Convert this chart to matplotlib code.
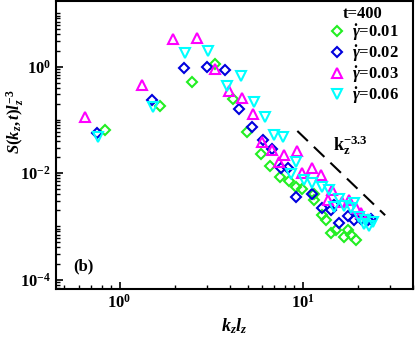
import numpy as np
import matplotlib
matplotlib.use("Agg")
import matplotlib.pyplot as plt
from matplotlib.ticker import FixedLocator, LogLocator, NullFormatter, LogFormatterMathtext

plt.rcParams['font.family'] = 'Liberation Serif'
plt.rcParams['font.weight'] = 'bold'
plt.rcParams['mathtext.fontset'] = 'custom'
plt.rcParams['mathtext.rm'] = 'Liberation Serif:bold'
plt.rcParams['mathtext.it'] = 'Liberation Serif:bold:italic'
plt.rcParams['mathtext.bf'] = 'Liberation Serif:bold'

# gamma = 0.01
x1 = [0.83, 1.66, 2.48, 3.33, 4.15, 4.97, 5.89, 6.67, 7.5, 8.4, 9.16, 9.96, 11.5, 11.5,
      12.8, 13.4, 14.3, 15.2, 16.9, 17.6, 18.3, 19.5]
y1 = [0.065, 0.178, 0.52, 1.1, 0.247, 0.058, 0.0226, 0.0138, 0.0085, 0.0071, 0.0055, 0.0051,
      0.0031, 0.0040, 0.0016, 0.0013, 0.00074, 0.00085, 0.00063, 0.00085, 0.00068, 0.00055]
# gamma = 0.02
x2 = [0.75, 1.50, 2.24, 3.0, 3.78, 4.48, 5.3, 6.08, 6.82, 7.57, 8.3, 9.16, 11.3, 12.8,
      14.3, 14.9, 15.8, 17.6, 19.1, 20.8, 22.6, 23.6]
y2 = [0.056, 0.236, 0.93, 1.0, 0.865, 0.158, 0.074, 0.042, 0.028, 0.0122, 0.0122, 0.0036,
      0.0040, 0.0022, 0.0020, 0.0025, 0.00113, 0.00155, 0.0013, 0.0014, 0.0013, 0.00135]
# gamma = 0.03
x3 = [0.65, 1.32, 1.97, 2.64, 3.31, 3.95, 4.67, 5.35, 6.0, 6.82, 7.42, 7.95, 9.27, 9.96,
      11.3, 12.6, 13.7, 14.5, 16.5, 18.0, 19.5, 20.8]
y3 = [0.115, 0.45, 3.27, 3.41, 0.89, 0.34, 0.254, 0.127, 0.039, 0.027, 0.0158, 0.022, 0.026,
      0.0099, 0.0122, 0.0092, 0.0031, 0.0049, 0.0029, 0.0031, 0.0022, 0.0018]
# gamma = 0.06
x4 = [0.76, 1.53, 2.28, 3.06, 3.86, 4.61, 5.41, 6.21, 6.96, 7.8, 8.6, 9.23, 10.2, 11.3,
      12.8, 14.0, 14.9, 15.8, 16.9, 18.3, 19.1, 20.4, 21.6, 22.0, 23.0, 24.2]
y4 = [0.048, 0.172, 1.78, 2.0, 0.43, 0.67, 0.22, 0.111, 0.052, 0.048, 0.0095, 0.0163, 0.0074,
      0.0066, 0.0055, 0.0048, 0.0023, 0.0032, 0.0024, 0.0022, 0.0027, 0.0015, 0.0011, 0.0013,
      0.0010, 0.0012]

# power law guide k^-3.3
k_line = np.array([9.35, 28.2])
s_line = 0.0617 * (k_line / 9.35) ** -3.3

fig = plt.figure(figsize=(4.15, 3.41), dpi=100)
ax = fig.add_axes([0.135, 0.152, 0.86, 0.845])

mk = dict(linestyle='none', markerfacecolor='none', markeredgewidth=1.5)
ax.plot(x1, y1, 'D', color='#22ee22', markersize=5.5, label=r'$\dot{\gamma}$=0.01', **mk)
ax.plot(x2, y2, 'D', color='#0000dd', markersize=5.5, label=r'$\dot{\gamma}$=0.02', **mk)
ax.plot(x3, y3, '^', color='#ff00ff', markersize=7.5, label=r'$\dot{\gamma}$=0.03', **mk)
ax.plot(x4, y4, 'v', color='#00ffff', markersize=7.5, label=r'$\dot{\gamma}$=0.06', **mk)
ax.plot(k_line, s_line, color='k', linestyle=(0, (7, 4)), linewidth=1.5)

ax.set_xscale('log')
ax.set_yscale('log')
ax.set_xlim(0.45, 40)
ax.set_ylim(6.6e-5, 17)

ax.yaxis.set_major_locator(FixedLocator([1e-4, 1e-2, 1e0]))
ax.yaxis.set_minor_locator(LogLocator(base=10, subs=np.arange(1, 10), numticks=20))
ax.yaxis.set_minor_formatter(NullFormatter())
ax.yaxis.set_major_formatter(LogFormatterMathtext())
ax.xaxis.set_major_locator(FixedLocator([1e0, 1e1]))
ax.xaxis.set_minor_locator(LogLocator(base=10, subs=np.arange(2, 10), numticks=20))
ax.xaxis.set_minor_formatter(NullFormatter())

ax.tick_params(which='both', direction='in', labelsize=12)
ax.tick_params(which='major', length=5, width=1.2)
ax.tick_params(which='minor', length=3, width=1)
for s in ax.spines.values():
    s.set_linewidth(1.5)

ax.set_xlabel(r'$k_z l_z$', fontsize=13, labelpad=3)
ax.set_ylabel(r'$S(k_z,t)l_z^{-3}$', fontsize=12, labelpad=0)
ax.yaxis.set_label_coords(-0.085, 0.58)

ax.text(0.048, 0.066, '(b)', transform=ax.transAxes, fontsize=12, fontweight='bold')
ax.text(0.775, 0.48, r'$\mathrm{k_z^{-3.3}}$', transform=ax.transAxes, fontsize=13)

leg = ax.legend(title='t=400', loc='upper right', frameon=False, fontsize=12,
                title_fontsize=12, handletextpad=0.3, labelspacing=0.0,
                borderaxespad=0.0, handlelength=1.2, borderpad=0.3,
                bbox_to_anchor=(0.975, 1.0))
leg.get_title().set_fontweight('bold')

fig.savefig('out.png', dpi=100)
